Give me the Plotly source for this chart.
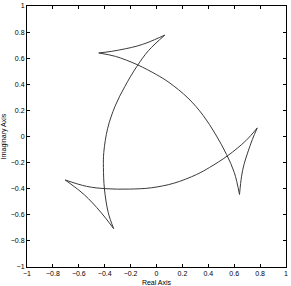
import plotly.graph_objects as go

# Curve, split at the six cusps (Real, Imag)
# short branch of the top swallowtail
seg1_x = [-0.446, -0.350, -0.241, -0.150, -0.066, 0.064]
seg1_y = [0.640, 0.652, 0.672, 0.693, 0.721, 0.777]

# large arc: top-left cusp -> lower-right cusp
seg2_x = [-0.446, -0.317, -0.148, 0.000, 0.097, 0.243, 0.360, 0.454, 0.541, 0.601, 0.641]
seg2_y = [0.640, 0.614, 0.550, 0.474, 0.414, 0.295, 0.162, 0.020, -0.138, -0.277, -0.444]

# short branch of the right swallowtail
seg3_x = [0.641, 0.657, 0.675, 0.703, 0.740, 0.778]
seg3_y = [-0.444, -0.304, -0.217, -0.127, -0.023, 0.066]

# large arc: right cusp -> left cusp
seg4_x = [0.778, 0.690, 0.550, 0.410, 0.310, 0.134, -0.040, -0.210, -0.390, -0.540, -0.705]
seg4_y = [0.066, -0.032, -0.147, -0.237, -0.291, -0.358, -0.393, -0.403, -0.400, -0.382, -0.333]

# short branch of the lower-left swallowtail
seg5_x = [-0.705, -0.591, -0.525, -0.461, -0.390, -0.331]
seg5_y = [-0.333, -0.418, -0.477, -0.545, -0.629, -0.706]

# large arc: bottom cusp -> top cusp
seg6_x = [-0.331, -0.373, -0.402, -0.410, -0.407, -0.377, -0.320, -0.244, -0.151, -0.061, 0.064]
seg6_y = [-0.706, -0.582, -0.402, -0.236, -0.122, 0.063, 0.232, 0.384, 0.538, 0.659, 0.777]

segments = [(seg1_x, seg1_y), (seg2_x, seg2_y), (seg3_x, seg3_y),
            (seg4_x, seg4_y), (seg5_x, seg5_y), (seg6_x, seg6_y)]

tick_vals = [-1, -0.8, -0.6, -0.4, -0.2, 0, 0.2, 0.4, 0.6, 0.8, 1]
tick_text = ["\u22121", "\u22120.8", "\u22120.6", "\u22120.4", "\u22120.2", "0",
             "0.2", "0.4", "0.6", "0.8", "1"]

FONT = "Liberation Sans, Arial, sans-serif"

fig = go.Figure()
for sx, sy in segments:
    fig.add_trace(go.Scatter(x=sx, y=sy, mode="lines",
                             line=dict(color="#3a3a3a", width=1, shape="spline", smoothing=1),
                             showlegend=False, hoverinfo="skip"))

axis_common = dict(range=[-1, 1], showgrid=False, zeroline=False, automargin=False,
                   showline=True, linecolor="black", linewidth=1, mirror="ticks",
                   ticks="inside", ticklen=3, tickcolor="black",
                   tickvals=tick_vals, ticktext=tick_text,
                   tickfont=dict(family=FONT, size=7, color="black"))

fig.update_layout(
    template="none",
    width=291, height=286,
    margin=dict(l=27, r=5, t=6, b=19),
    paper_bgcolor="white", plot_bgcolor="white",
    xaxis=dict(**axis_common,
               title=dict(text="Real Axis",
                          font=dict(family=FONT, size=7, color="black"))),
    yaxis=dict(**axis_common,
               title=dict(text="Imaginary Axis",
                          font=dict(family=FONT, size=7, color="black"))),
)

fig.write_html("out.html",
               config={"displayModeBar": False, "staticPlot": True},
               post_script="document.body.style.margin='0';document.body.style.overflow='hidden';")
